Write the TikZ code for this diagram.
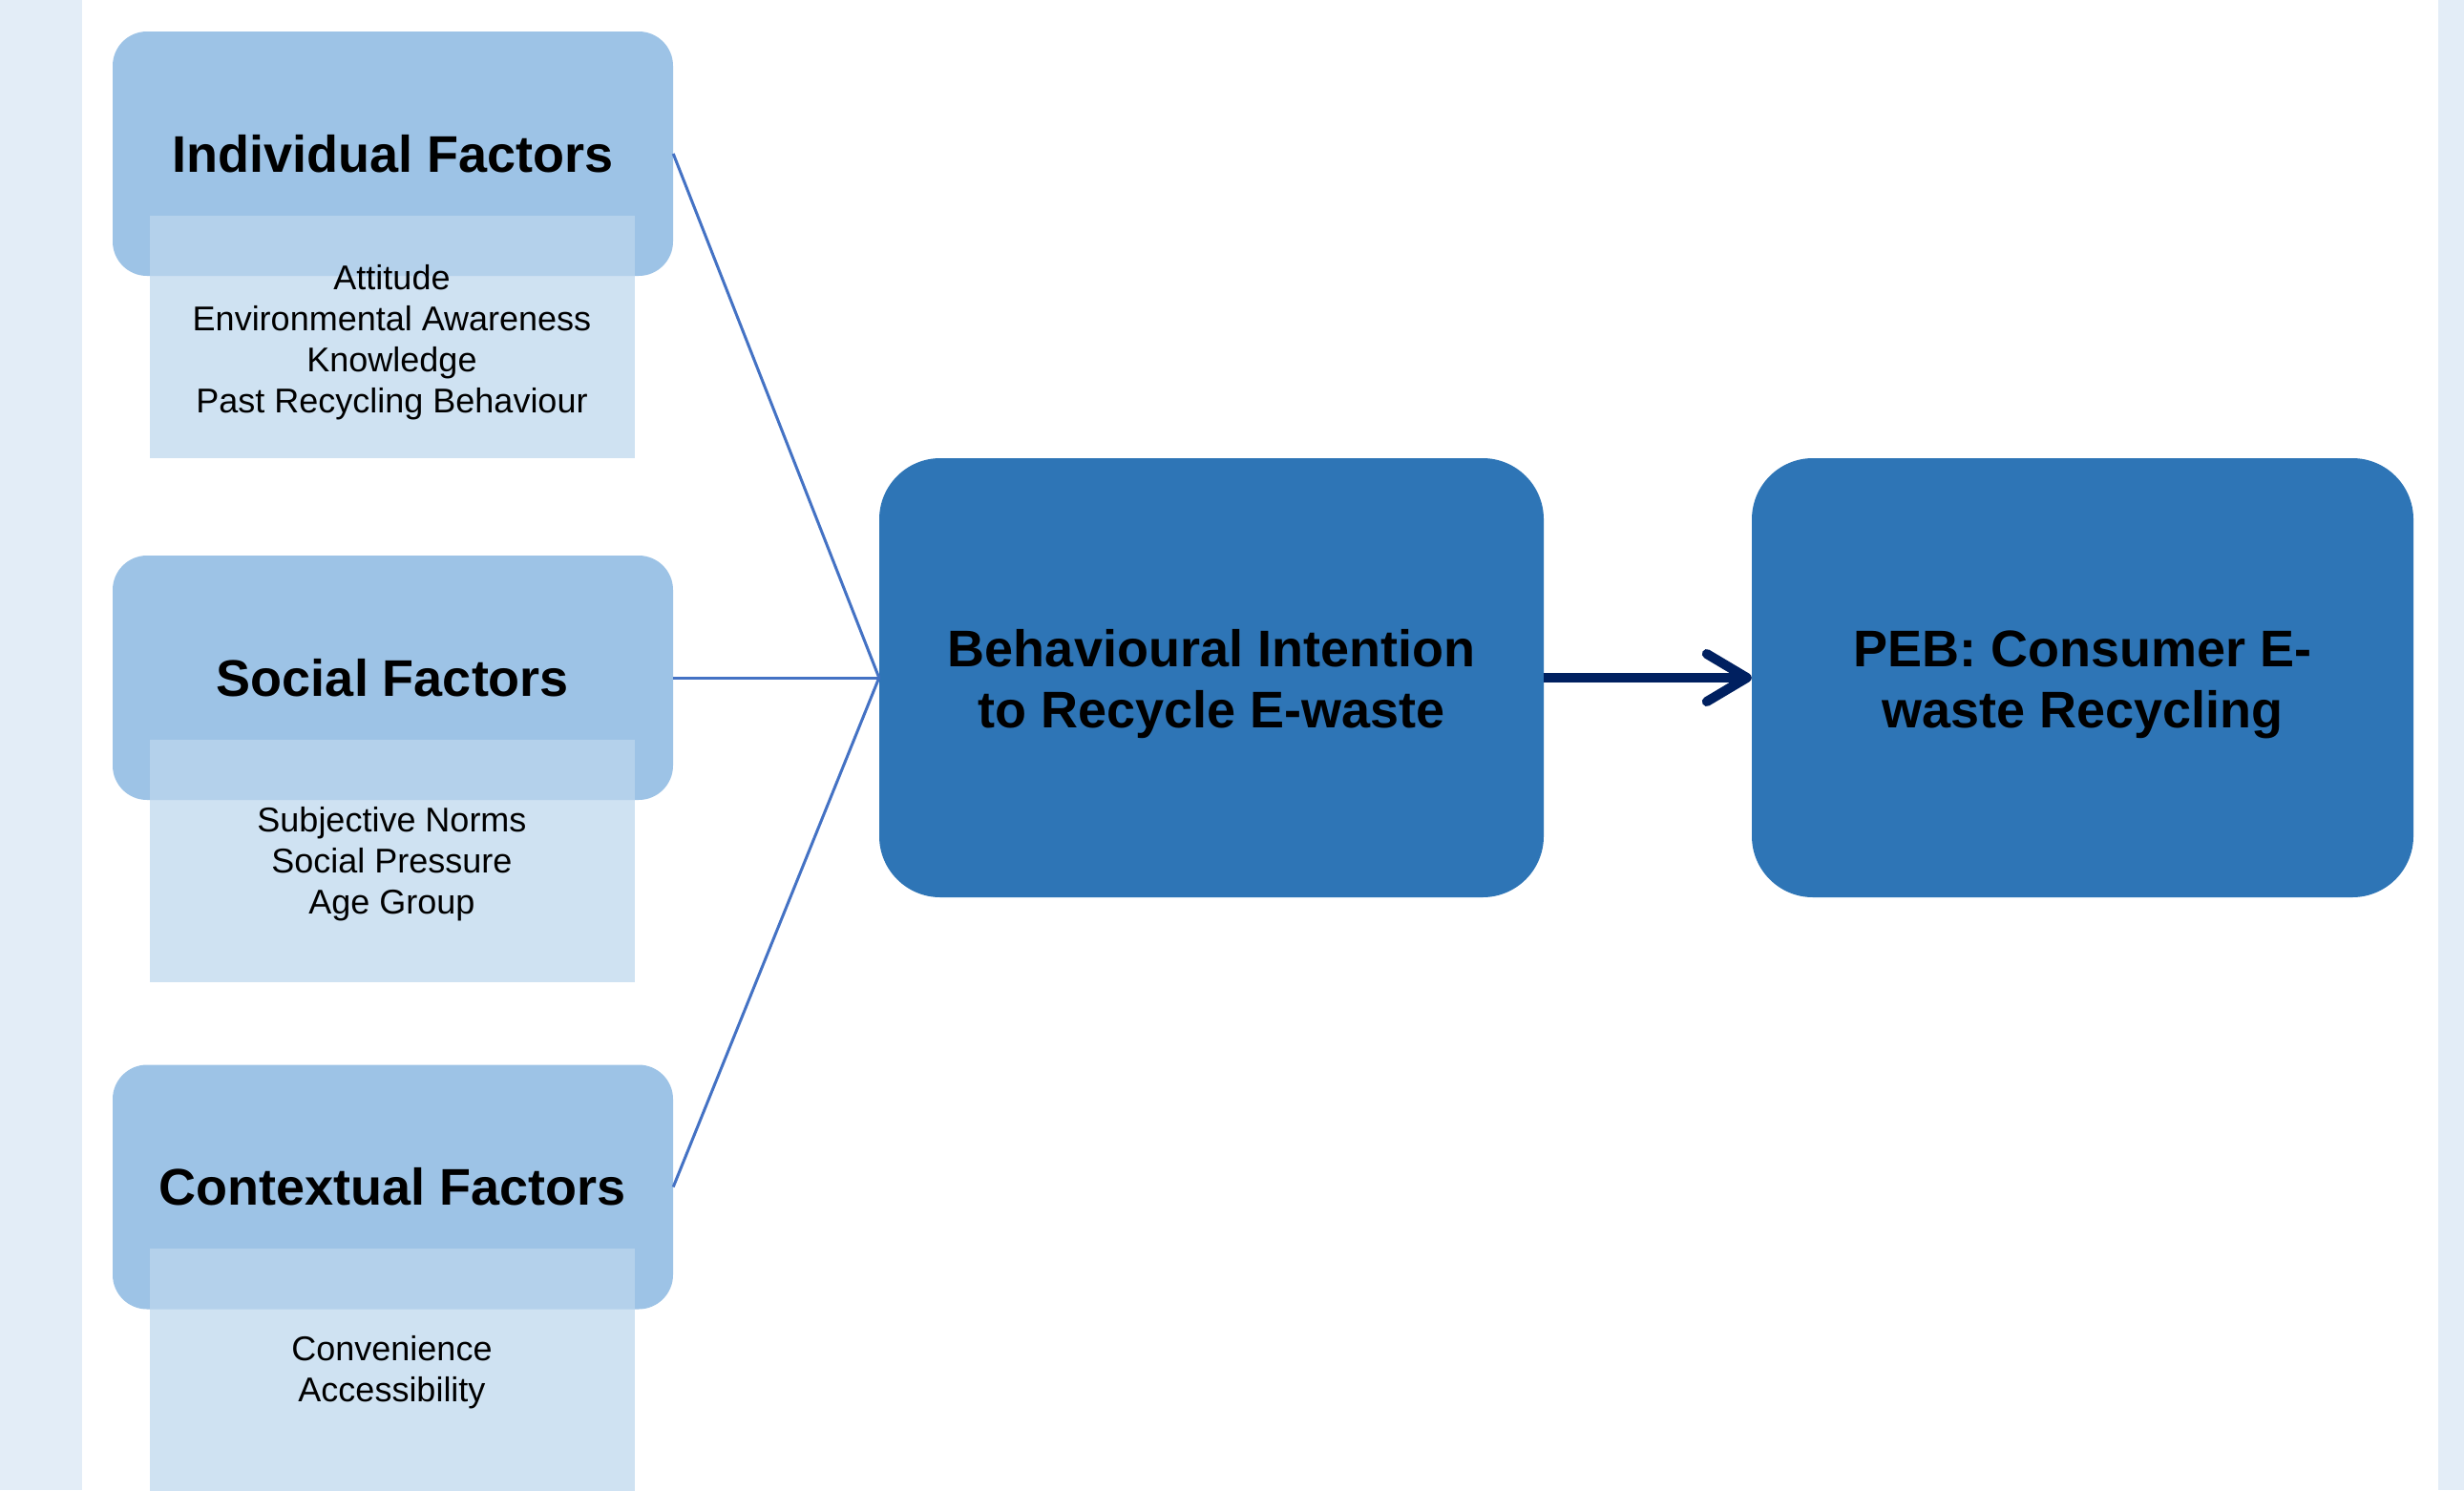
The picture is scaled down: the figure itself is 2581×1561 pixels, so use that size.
\documentclass[tikz,border=0pt]{standalone}
\usepackage{fontspec}
\setmainfont{Liberation Sans}
\usetikzlibrary{arrows.meta}
\definecolor{stripc}{RGB}{227,237,247}
\definecolor{lightbox}{RGB}{157,195,230}
\definecolor{subboxc}{RGB}{189,215,238}
\definecolor{darkbox}{RGB}{46,117,182}
\definecolor{connc}{RGB}{68,114,196}
\definecolor{navyc}{RGB}{0,32,96}
\begin{document}
\begin{tikzpicture}[x=1pt,y=-1pt,
  factorbox/.style={rectangle, rounded corners=36pt, fill=lightbox, minimum width=587pt, minimum height=256pt, inner sep=0pt, font=\bfseries\fontsize{54}{64}\selectfont},
  itembox/.style={rectangle, fill=subboxc, fill opacity=0.72, minimum width=508pt, minimum height=254pt, inner sep=0pt},
  itemtext/.style={align=center, inner sep=0pt, font=\fontsize{36}{43}\selectfont},
  bigbox/.style={rectangle, rounded corners=64pt, fill=darkbox, minimum height=460pt, inner sep=0pt},
  bigtext/.style={align=center, inner sep=0pt, font=\bfseries\fontsize{54}{64}\selectfont},
  link/.style={draw=connc, line width=3pt},
  flow/.style={draw=navyc, line width=10pt, -{Straight Barb[length=42pt,width=50pt,round]}}
]
\useasboundingbox (0,0) rectangle (2581,1561);
\fill[white] (0,0) rectangle (2581,1561);
\fill[stripc] (0,0) rectangle (86,1561);
\fill[stripc] (2554,0) rectangle (2581,1561);

% factor boxes
\node[factorbox] (ind) at (411.5,161) {Individual Factors};
\node[factorbox] (soc) at (411.5,710) {Social Factors};
\node[factorbox] (ctx) at (411.5,1243.5) {Contextual Factors};

% item boxes
\node[itembox] (indsub) at (410.5,353) {};
\node[itembox] (socsub) at (410.5,901.5) {};
\node[itembox] (ctxsub) at (410.5,1435) {};

\node[itemtext] (indtxt) at (410.5,359) {Attitude\\Environmental Awareness\\Knowledge\\Past Recycling Behaviour};
\node[itemtext] (soctxt) at (410.5,905.5) {Subjective Norms\\Social Pressure\\Age Group};
\node[itemtext] (ctxtxt) at (410.5,1438) {Convenience\\Accessibility};

% main boxes
\node[bigbox, minimum width=696pt] (bi) at (1269,710) {};
\node[bigbox, minimum width=693pt] (peb) at (2181.5,710) {};
\node[bigtext] (bitxt) at (1269,717) {Behavioural Intention\\to Recycle E-waste};
\node[bigtext] (pebtxt) at (2181.5,717) {PEB: Consumer E-\\waste Recycling};

% connectors
\draw[link] (ind.east) -- (bi.west);
\draw[link] (soc.east) -- (bi.west);
\draw[link] (ctx.east) -- (bi.west);
\draw[flow] (bi.east) -- (peb.west);
\end{tikzpicture}
\end{document}
